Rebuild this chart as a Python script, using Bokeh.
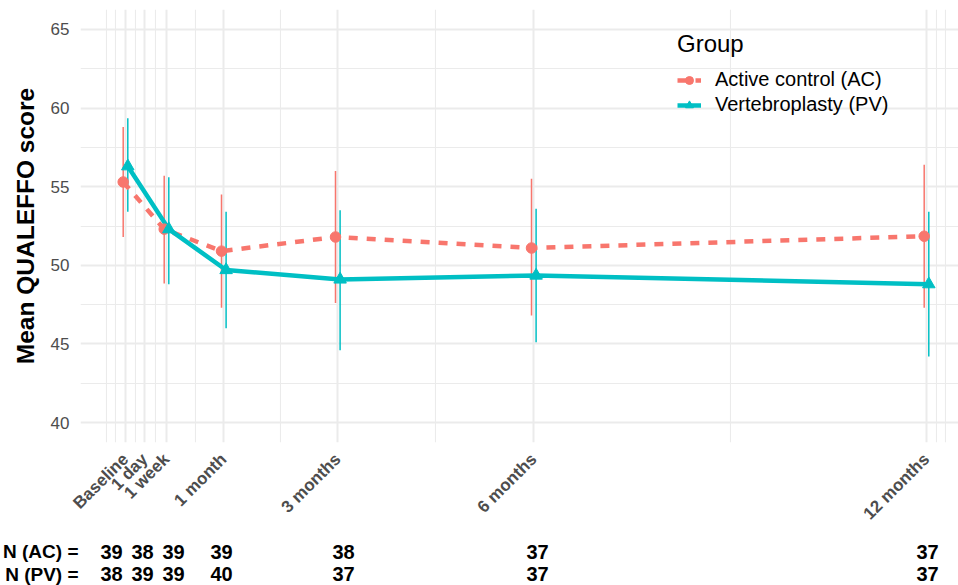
import math
from bokeh.plotting import figure
from bokeh.models import Range1d, FixedTicker, Legend, LegendItem
from bokeh.layouts import column
from bokeh.embed import file_html
from bokeh.resources import INLINE
from bokeh.core.properties import value

# ---------------- data ----------------
timepoints = ["Baseline", "1 day", "1 week", "1 month", "3 months", "6 months", "12 months"]
time_pos = [0, 1.93, 4.1, 9.83, 21.23, 40.83, 80.1]   # plotting position of each visit

# QUALEFFO measured at these visits (not at 1 day)
meas_visits = ["Baseline", "1 week", "1 month", "3 months", "6 months", "12 months"]
ac_mean = [55.3, 52.3, 50.9, 51.8, 51.1, 51.85]
ac_lo   = [51.8, 48.85, 47.3, 47.6, 46.8, 47.3]
ac_hi   = [58.8, 55.7, 54.5, 56.0, 55.5, 56.4]
pv_mean = [56.3, 52.3, 49.7, 49.1, 49.35, 48.8]
pv_lo   = [53.4, 48.8, 46.0, 44.6, 45.1, 44.2]
pv_hi   = [59.35, 55.6, 53.4, 53.5, 53.6, 53.4]

n_ac = [39, 38, 39, 39, 38, 37, 37]
n_pv = [38, 39, 39, 40, 37, 37, 37]
n_pos = [-1.4, 1.7, 4.8, 9.6, 21.8, 41.2, 80.2]      # column positions in the N table
row_labels = ["N (AC) =", "N (PV) ="]

y_ticks = [40, 45, 50, 55, 60, 65]

AC_COL = "#F8766D"
PV_COL = "#00BFC4"
GRID = "#EBEBEB"
FONT = "Liberation Sans"

# ---------------- layout constants ----------------
W = 958
LEFT = 80
X_LO, X_HI = -4.5, 83.3
DODGE = 0.23

pos_of = dict(zip(timepoints, time_pos))
x_meas = [pos_of[v] for v in meas_visits]
x_ac = [x - DODGE for x in x_meas]
x_pv = [x + DODGE for x in x_meas]

# ggplot-like minor breaks
bd = time_pos[1] - time_pos[0]
ext = [time_pos[0] - bd] + time_pos + [time_pos[-1] + bd]
minor_x = sorted(set(ext + [(a + b) / 2 for a, b in zip(ext[:-1], ext[1:])]) - set(time_pos))
ystep = y_ticks[1] - y_ticks[0]
yext = [y_ticks[0] - ystep] + y_ticks + [y_ticks[-1] + ystep]
minor_y = [(a + b) / 2 for a, b in zip(yext[:-1], yext[1:])]

p = figure(width=W, height=538,
           x_range=Range1d(X_LO, X_HI), y_range=Range1d(38.73, 66.27),
           output_backend="svg", toolbar_location=None,
           min_border_left=LEFT, min_border_right=0, min_border_top=9, min_border_bottom=96)
p.outline_line_color = None
p.background_fill_color = "white"

xt = FixedTicker(ticks=time_pos, minor_ticks=minor_x)
yt = FixedTicker(ticks=y_ticks, minor_ticks=minor_y)
p.xaxis.ticker = xt
p.xgrid.ticker = xt
p.yaxis.ticker = yt
p.ygrid.ticker = yt

for g in (p.xgrid, p.ygrid):
    g.grid_line_color = GRID
    g.grid_line_width = 2
    g.minor_grid_line_color = GRID
    g.minor_grid_line_width = 1.1

for ax in (p.xaxis, p.yaxis):
    ax.axis_line_color = None
    ax.major_tick_line_color = None
    ax.minor_tick_line_color = None
    ax.major_tick_out = 0
    ax.major_tick_in = 0
    ax.minor_tick_out = 0
    ax.minor_tick_in = 0
    ax.major_label_text_font = FONT
    ax.major_label_text_color = "#4D4D4D"

p.yaxis.major_label_text_font_size = "17px"
p.yaxis.major_label_standoff = 11
p.yaxis.axis_label = "Mean QUALEFFO score"
p.yaxis.axis_label_text_font = FONT
p.yaxis.axis_label_text_font_size = "24.5px"
p.yaxis.axis_label_text_font_style = "bold"
p.yaxis.axis_label_text_color = "black"
p.yaxis.axis_label_standoff = 9

p.xaxis.major_label_overrides = {pos: lab for pos, lab in zip(time_pos, timepoints)}
p.xaxis.major_label_orientation = math.pi / 4
p.xaxis.major_label_text_font_size = "17px"
p.xaxis.major_label_text_font_style = "bold"
p.xaxis.major_label_text_baseline = "top"
p.xaxis.major_label_standoff = 14

# error bars
p.segment(x0=x_ac, y0=ac_lo, x1=x_ac, y1=ac_hi, line_color=AC_COL, line_width=1.5)
p.segment(x0=x_pv, y0=pv_lo, x1=x_pv, y1=pv_hi, line_color=PV_COL, line_width=1.5)
# lines
l_ac = p.line(x_ac, ac_mean, line_color=AC_COL, line_width=4.5, line_dash="9 9")
l_pv = p.line(x_pv, pv_mean, line_color=PV_COL, line_width=4.5)
# points
s_ac = p.scatter(x_ac, ac_mean, marker="circle", size=10.5, fill_color=AC_COL, line_color=AC_COL)
s_pv = p.scatter(x_pv, pv_mean, marker="triangle", size=12.5, fill_color=PV_COL, line_color=PV_COL)

legend = Legend(items=[LegendItem(label="Active control (AC)", renderers=[l_ac, s_ac]),
                       LegendItem(label="Vertebroplasty (PV)", renderers=[l_pv, s_pv])],
                location=(597, 326))
legend.title = "Group"
legend.title_text_font = FONT
legend.title_text_font_size = "24px"
legend.title_text_font_style = "normal"
legend.title_text_color = "black"
legend.title_standoff = 10
legend.label_text_font = FONT
legend.label_text_font_size = "20px"
legend.label_text_color = "black"
legend.glyph_width = 24
legend.label_standoff = 14
legend.spacing = 2
legend.padding = 0
legend.margin = 0
legend.border_line_color = None
legend.background_fill_alpha = 0
p.add_layout(legend, "center")

# ---------------- N table ----------------
rows_y = [1, 0]
t = figure(width=W, height=47, x_range=p.x_range, y_range=Range1d(-0.5, 1.59),
           output_backend="svg", toolbar_location=None, x_axis_location=None,
           min_border_left=LEFT, min_border_right=0, min_border_top=0, min_border_bottom=0)
t.outline_line_color = None
t.grid.visible = False
t.yaxis.ticker = FixedTicker(ticks=rows_y)
t.yaxis.major_label_overrides = {r: lab for r, lab in zip(rows_y, row_labels)}
t.yaxis.axis_line_color = None
t.yaxis.major_tick_line_color = None
t.yaxis.minor_tick_line_color = None
t.yaxis.major_tick_out = 0
t.yaxis.major_tick_in = 0
t.yaxis.minor_tick_out = 0
t.yaxis.minor_tick_in = 0
t.yaxis.major_label_standoff = 2
t.yaxis.major_label_text_font = FONT
t.yaxis.major_label_text_font_size = "19px"
t.yaxis.major_label_text_font_style = "bold"
t.yaxis.major_label_text_color = "black"

t.text(x=n_pos, y=[rows_y[0]] * len(n_ac), text=[str(v) for v in n_ac], text_font=value(FONT),
       text_font_size="20px", text_font_style="bold", text_color="black",
       text_align="center", text_baseline="middle")
t.text(x=n_pos, y=[rows_y[1]] * len(n_pv), text=[str(v) for v in n_pv], text_font=value(FONT),
       text_font_size="20px", text_font_style="bold", text_color="black",
       text_align="center", text_baseline="middle")

layout = column(p, t)
open("out.html", "w").write(file_html(layout, INLINE))
